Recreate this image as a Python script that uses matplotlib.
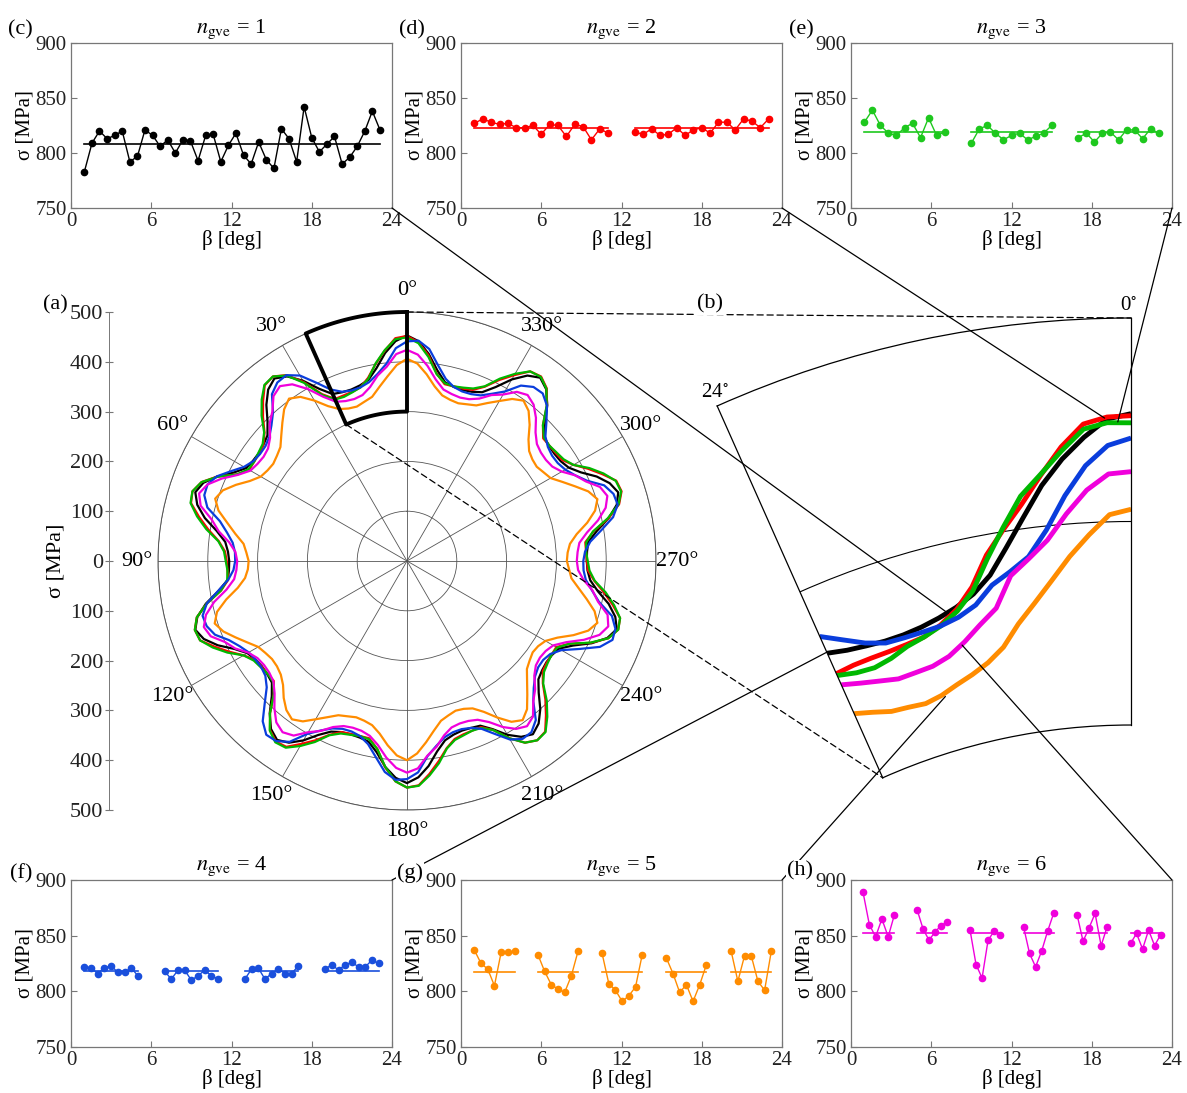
import numpy as np
import matplotlib as mpl
import matplotlib.pyplot as plt
from matplotlib.patches import ConnectionPatch

mpl.rcParams.update({'font.family': ['Liberation Serif', 'DejaVu Serif'],
                     'mathtext.fontset': 'stix', 'font.size': 15})

W, H = 1187, 1093

# ---------------- (a) polar curves, sigma [MPa] every 3 deg ----------------
theta_deg = np.arange(0, 360, 3)

sig_black = [453, 442, 420, 392, 372, 365, 362, 363, 367, 388, 418, 442,
             453, 443, 422, 396, 377, 371, 368, 369, 373, 391, 417, 438,
             447, 436, 415, 387, 367, 360, 357, 358, 362, 383, 413, 436,
             447, 437, 416, 389, 370, 363, 360, 361, 365, 384, 412, 434,
             444, 435, 416, 392, 375, 368, 366, 367, 371, 389, 416, 436,
             446, 435, 414, 387, 368, 361, 358, 359, 362, 379, 403, 421,
             430, 420, 400, 374, 355, 349, 346, 347, 352, 374, 406, 431,
             443, 433, 414, 388, 370, 363, 361, 362, 366, 386, 414, 436,
             446, 436, 417, 392, 375, 368, 366, 367, 371, 392, 421, 444,
             455, 444, 421, 392, 371, 364, 361, 362, 367, 388, 418, 442]
sig_red = [452, 448, 425, 401, 376, 361, 357, 356, 356, 376, 415, 445,
           458, 454, 432, 409, 385, 371, 367, 366, 366, 383, 417, 442,
           453, 449, 427, 404, 380, 366, 362, 361, 361, 378, 411, 437,
           448, 445, 423, 401, 379, 364, 361, 360, 360, 378, 411, 437,
           448, 445, 424, 404, 382, 368, 365, 364, 364, 382, 417, 443,
           455, 451, 430, 407, 384, 370, 366, 365, 365, 381, 411, 435,
           445, 441, 417, 393, 367, 351, 347, 346, 346, 366, 404, 433,
           446, 443, 422, 400, 378, 364, 361, 360, 360, 379, 414, 441,
           453, 450, 429, 408, 386, 372, 369, 368, 368, 386, 420, 446,
           458, 454, 431, 408, 383, 368, 364, 363, 363, 381, 415, 440]
sig_green = [449, 446, 426, 402, 374, 361, 356, 353, 355, 374, 413, 444,
             458, 455, 436, 413, 386, 373, 369, 366, 368, 383, 416, 442,
             453, 450, 431, 408, 381, 368, 364, 361, 363, 378, 411, 437,
             448, 445, 427, 405, 379, 367, 363, 360, 362, 378, 411, 438,
             450, 447, 429, 408, 383, 371, 367, 364, 366, 382, 416, 443,
             455, 452, 433, 411, 385, 372, 368, 365, 367, 381, 411, 435,
             445, 442, 421, 397, 368, 354, 349, 346, 348, 366, 403, 433,
             446, 443, 425, 404, 379, 367, 363, 360, 362, 378, 412, 440,
             452, 449, 432, 411, 386, 375, 371, 368, 370, 386, 419, 445,
             457, 454, 434, 411, 384, 371, 366, 363, 365, 380, 412, 438]
sig_blue = [441, 428, 398, 380, 367, 361, 360, 364, 377, 402, 430, 445,
            443, 431, 402, 385, 372, 366, 365, 368, 378, 397, 418, 429,
            428, 415, 384, 366, 352, 346, 345, 349, 361, 384, 411, 425,
            423, 413, 391, 377, 367, 363, 362, 366, 379, 404, 433, 449,
            447, 433, 401, 382, 368, 361, 360, 364, 376, 399, 426, 440,
            438, 425, 394, 376, 362, 356, 355, 359, 369, 390, 414, 426,
            425, 411, 379, 360, 346, 339, 338, 343, 358, 389, 424, 442,
            440, 426, 394, 376, 361, 355, 354, 358, 370, 395, 423, 438,
            436, 424, 396, 379, 367, 361, 360, 364, 374, 396, 420, 433,
            432, 420, 393, 377, 364, 359, 358, 362, 374, 398, 428, 443]
sig_magenta = [424, 416, 392, 377, 357, 345, 342, 344, 350, 370, 399, 423,
               434, 426, 404, 390, 370, 359, 356, 358, 363, 381, 407, 429,
               439, 429, 401, 383, 359, 345, 341, 343, 349, 367, 396, 418,
               429, 422, 400, 387, 368, 358, 355, 356, 361, 376, 398, 417,
               425, 418, 397, 383, 365, 355, 352, 353, 359, 374, 397, 416,
               425, 417, 393, 378, 358, 346, 343, 344, 349, 363, 385, 402,
               410, 402, 379, 364, 344, 333, 330, 332, 339, 359, 389, 414,
               425, 417, 392, 377, 356, 344, 341, 343, 348, 366, 392, 413,
               423, 415, 393, 379, 359, 348, 345, 346, 351, 365, 387, 404,
               412, 405, 386, 374, 357, 348, 345, 347, 352, 369, 394, 415]
sig_orange = [406, 394, 373, 354, 337, 331, 326, 328, 334, 349, 372, 393,
              403, 392, 374, 357, 342, 336, 332, 334, 339, 354, 376, 396,
              405, 392, 369, 349, 330, 323, 318, 320, 327, 344, 371, 395,
              406, 395, 377, 360, 345, 339, 335, 336, 341, 352, 370, 385,
              393, 384, 367, 352, 339, 334, 330, 332, 337, 351, 372, 391,
              400, 387, 366, 345, 328, 321, 316, 318, 324, 340, 363, 385,
              395, 383, 361, 341, 324, 317, 312, 314, 321, 339, 366, 390,
              402, 390, 369, 349, 332, 326, 321, 323, 329, 345, 370, 391,
              402, 390, 369, 350, 333, 327, 322, 324, 330, 345, 368, 388,
              398, 388, 371, 356, 342, 337, 333, 335, 340, 355, 377, 397]

# ---------------- (b) zoom of the 0..24 deg sector ----------------
beta_zoom = np.arange(0, 24.1, 1.5)
zoom_black = [453, 450.5, 442, 432, 420, 405.5, 392, 380, 372.5, 368, 365, 363, 362, 362, 363, 364.5, 367]
zoom_red = [452, 451.5, 448.5, 438, 425, 412, 401, 390, 376, 367, 361.5, 358, 357, 356.5, 356.5, 356.5, 356]
zoom_green = [448.5, 448.7, 446, 436, 425.5, 416, 402, 388, 374, 366, 361, 358, 356, 353, 351.5, 352.5, 355]
zoom_blue = [441, 437.5, 428, 414, 398, 386, 380, 375, 367, 363, 361, 360.5, 360.5, 361, 364.5, 370, 376]
zoom_magenta = [424.5, 423.5, 416, 405, 393, 385, 378, 363.5, 357, 350.5, 345.5, 343, 342.5, 342.3, 344.5, 347, 350]
zoom_orange = [406, 403.5, 394, 384, 373, 363, 354, 344, 338, 334, 331, 328, 326.5, 327.5, 328.5, 331.5, 334.5]

# ---------------- (c)-(h) sigma along beta, per n_gve ----------------
beta_c = [[1.00, 1.57, 2.13, 2.70, 3.27, 3.83, 4.40, 4.97, 5.53, 6.10, 6.67, 7.23, 7.80, 8.37,
           8.93, 9.50, 10.07, 10.63, 11.20, 11.77, 12.33, 12.90, 13.47, 14.03, 14.60, 15.17,
           15.73, 16.30, 16.87, 17.43, 18.00, 18.57, 19.13, 19.70, 20.27, 20.83, 21.40, 21.97,
           22.53, 23.10]]
sigma_c = [[783, 809, 820, 813, 816, 820, 792, 797, 821, 816, 806, 812, 800, 812, 811, 793,
            816, 817, 792, 807, 818, 798, 790, 810, 794, 786, 822, 813, 792, 842, 814, 801,
            808, 815, 790, 796, 806, 820, 838, 821]]
mean_c = 808

beta_d = [[1.00, 1.63, 2.25, 2.88, 3.50, 4.13, 4.75, 5.38, 6.00, 6.63, 7.25, 7.88, 8.50, 9.13, 9.75, 10.38, 11.00],
          [13.00, 13.63, 14.25, 14.88, 15.50, 16.13, 16.75, 17.38, 18.00, 18.63, 19.25, 19.88, 20.50, 21.13, 21.75, 22.38, 23.00]]
sigma_d = [[827, 831, 828, 826, 827, 823, 823, 825, 817, 826, 825, 815, 826, 824, 812, 822, 818],
           [819, 817, 822, 816, 817, 823, 816, 821, 823, 818, 828, 828, 821, 831, 829, 823, 831]]
mean_d = 823

beta_e = [[1.0, 1.6, 2.2, 2.8, 3.4, 4.0, 4.6, 5.2, 5.8, 6.4, 7.0],
          [9.0, 9.6, 10.2, 10.8, 11.4, 12.0, 12.6, 13.2, 13.8, 14.4, 15.0],
          [17.0, 17.6, 18.2, 18.8, 19.4, 20.0, 20.6, 21.2, 21.8, 22.4, 23.0]]
sigma_e = [[828, 839, 825, 818, 816, 823, 827, 814, 832, 816, 819],
           [809, 822, 825, 818, 812, 816, 818, 812, 815, 818, 825],
           [814, 818, 810, 818, 819, 812, 821, 821, 813, 822, 818]]
mean_e = 819

beta_f = [[1.0, 1.5, 2.0, 2.5, 3.0, 3.5, 4.0, 4.5, 5.0],
          [7.0, 7.5, 8.0, 8.5, 9.0, 9.5, 10.0, 10.5, 11.0],
          [13.0, 13.5, 14.0, 14.5, 15.0, 15.5, 16.0, 16.5, 17.0],
          [19.0, 19.5, 20.0, 20.5, 21.0, 21.5, 22.0, 22.5, 23.0]]
sigma_f = [[822, 821, 816, 821, 823, 817, 817, 821, 814],
           [818, 811, 819, 819, 810, 814, 819, 814, 811],
           [811, 820, 821, 811, 816, 820, 816, 816, 823],
           [820, 824, 819, 824, 826, 822, 822, 828, 825]]
mean_f = 818

beta_g = [[1.0, 1.5, 2.0, 2.5, 3.0, 3.5, 4.0],
          [5.75, 6.25, 6.75, 7.25, 7.75, 8.25, 8.75],
          [10.55, 11.05, 11.55, 12.05, 12.55, 13.05, 13.55],
          [15.35, 15.85, 16.35, 16.85, 17.35, 17.85, 18.35],
          [20.2, 20.7, 21.2, 21.7, 22.2, 22.7, 23.2]]
sigma_g = [[837, 825, 820, 805, 835, 835, 836],
           [833, 818, 806, 802, 799, 814, 836],
           [834, 807, 801, 791, 796, 804, 833],
           [830, 816, 799, 806, 791, 806, 824],
           [836, 809, 832, 832, 809, 801, 836]]
mean_g = 817

beta_h = [[0.90, 1.37, 1.84, 2.31, 2.78, 3.25],
          [4.95, 5.39, 5.83, 6.27, 6.71, 7.15],
          [8.90, 9.35, 9.80, 10.25, 10.70, 11.15],
          [12.90, 13.35, 13.80, 14.25, 14.70, 15.15],
          [16.90, 17.35, 17.80, 18.25, 18.70, 19.15],
          [20.90, 21.35, 21.80, 22.25, 22.70, 23.15]]
sigma_h = [[889, 860, 849, 865, 849, 869],
           [873, 856, 846, 853, 859, 862],
           [855, 824, 812, 846, 854, 851],
           [858, 834, 822, 836, 854, 870],
           [869, 845, 857, 870, 841, 858],
           [843, 852, 838, 855, 841, 851]]
mean_h = 852

c_black, c_red, c_green = 'k', '#ff0000', '#00b800'
c_blue, c_magenta, c_orange = '#0a3ddc', '#f000dc', '#ff8c00'

fig = plt.figure(figsize=(W / 100, H / 100), dpi=100)


def frac(x0, y0, x1, y1):
    # pixel box -> figure fraction rect
    return [x0 / W, 1 - y1 / H, (x1 - x0) / W, (y1 - y0) / H]


def label(x, y, s, box=False, size=15):
    kw = dict(ha='center', va='center', fontsize=size)
    if box:
        kw['bbox'] = dict(facecolor='white', edgecolor='none', pad=1)
    fig.text(x / W, 1 - y / H, s, **kw)


def small_panel(rect, bx, sy, mean, color, n):
    ax = fig.add_axes(rect)
    for xs, ys in zip(bx, sy):
        ax.plot(xs, ys, '-o', color=color, lw=1, ms=4.5)
        ax.plot([xs[0], xs[-1]], [mean, mean], color=color, lw=1.2)
    ax.set_xlim(0, 24)
    ax.set_ylim(750, 900)
    ax.set_xticks([0, 6, 12, 18, 24])
    ax.set_yticks([750, 800, 850, 900])
    ax.set_xlabel('β [deg]', labelpad=-1)
    ax.set_ylabel('σ [MPa]', labelpad=1)
    ax.set_title(r'$n_{\rm gve}$ = %d' % n, pad=7, fontsize=16)
    ax.tick_params(direction='in', length=4, width=0.8, color='#777777',
                   labelcolor='#222222', pad=3)
    for sp in ax.spines.values():
        sp.set_color('#777777')
        sp.set_linewidth(0.9)
    return ax


ax_c = small_panel(frac(71, 43, 392, 208), beta_c, sigma_c, mean_c, c_black, 1)
ax_d = small_panel(frac(461, 43, 782, 208), beta_d, sigma_d, mean_d, c_red, 2)
ax_e = small_panel(frac(851, 43, 1172, 208), beta_e, sigma_e, mean_e, '#1ec81e', 3)
ax_f = small_panel(frac(71, 880, 392, 1047), beta_f, sigma_f, mean_f, '#1a4fdc', 4)
ax_g = small_panel(frac(461, 880, 782, 1047), beta_g, sigma_g, mean_g, c_orange, 5)
ax_h = small_panel(frac(851, 880, 1172, 1047), beta_h, sigma_h, mean_h, c_magenta, 6)

# ---------------- (a) polar plot ----------------
ax_a = fig.add_axes(frac(158, 312, 656, 810), projection='polar')
ax_a.set_theta_zero_location('N')
ax_a.set_theta_direction(1)
series = [(sig_black, c_black), (sig_red, c_red), (sig_green, c_green),
          (sig_blue, c_blue), (sig_magenta, c_magenta), (sig_orange, c_orange)]
th = np.deg2rad(np.append(theta_deg, 360))
for vals, col in series:
    ax_a.plot(th, np.append(vals, vals[0]), color=col, lw=1.6)
ax_a.set_ylim(0, 500)
ax_a.set_yticks([100, 200, 300, 400, 500])
ax_a.set_yticklabels([])
angles = np.arange(0, 360, 30)
ax_a.set_xticks(np.deg2rad(angles))
ax_a.set_xticklabels(['%d°' % a for a in angles], fontsize=16)
ax_a.tick_params(axis='x', pad=5)
ax_a.grid(True, color='#555555', lw=0.6)
ax_a.spines['polar'].set_color('#555555')
ax_a.spines['polar'].set_linewidth(0.7)

# zoomed sector outline
zt0, zt1, zr0, zr1 = 0, 24, 300, 500
arc = np.linspace(np.deg2rad(zt0), np.deg2rad(zt1), 40)
ax_a.plot(np.concatenate([arc, arc[::-1], arc[:1]]),
          np.concatenate([np.full(40, zr1), np.full(40, zr0), [zr1]]),
          color='k', lw=2.8, clip_on=False, zorder=5)

# linear sigma axis at the left of (a)
ax_y = fig.add_axes(frac(109, 312, 130, 810))
ax_y.set_ylim(-500, 500)
ax_y.set_yticks(range(-500, 501, 100))
ax_y.set_yticklabels([str(abs(v)) for v in range(-500, 501, 100)], fontsize=16)
ax_y.set_xticks([])
ax_y.patch.set_visible(False)
for s in ['top', 'right', 'bottom']:
    ax_y.spines[s].set_visible(False)
ax_y.spines['left'].set_color('#777777')
ax_y.spines['left'].set_linewidth(0.7)
ax_y.tick_params(axis='y', direction='inout', length=6, color='#777777',
                 labelcolor='#222222', pad=1)
ax_y.set_ylabel('σ [MPa]', labelpad=3, fontsize=16)

# ---------------- (b) zoomed wedge ----------------
ax_b = fig.add_axes(frac(694.2, 318, 1154, 777.8), projection='polar')
ax_b.set_theta_zero_location('N')
ax_b.set_thetamin(zt0)
ax_b.set_thetamax(zt1)
ax_b.set_rorigin(0)
ax_b.set_ylim(zr0, zr1)
tb = np.deg2rad(beta_zoom)
for vals, col in [(zoom_black, c_black), (zoom_red, c_red), (zoom_green, c_green),
                  (zoom_blue, c_blue), (zoom_magenta, c_magenta), (zoom_orange, c_orange)]:
    ax_b.plot(tb, vals, color=col, lw=3.5, solid_capstyle='butt')
ax_b.set_xticks([])
ax_b.set_yticks([400])
ax_b.set_yticklabels([])
ax_b.grid(True, color='k', lw=0.8)
for sp in ax_b.spines.values():
    sp.set_color('k')
    sp.set_linewidth(0.9)

# ---------------- connectors ----------------
def connect(xyA, axA, coordA, xyB, axB, ls='-'):
    con = ConnectionPatch(xyA=xyA, coordsA=coordA, axesA=axA,
                          xyB=xyB, coordsB='data', axesB=axB,
                          color='k', lw=0.9, linestyle=ls)
    fig.add_artist(con)


dash = (0, (5, 3))
connect((0, zr1), ax_a, 'data', (0, zr1), ax_b, dash)
connect((np.deg2rad(zt1), zr0), ax_a, 'data', (np.deg2rad(zt1), zr0), ax_b, dash)
connect((1, 0), ax_c, 'axes fraction', (np.deg2rad(14.2), 366), ax_b)
connect((1, 0), ax_d, 'axes fraction', (np.deg2rad(1.65), 451), ax_b)
connect((1, 0), ax_e, 'axes fraction', (np.deg2rad(0.83), 449), ax_b)
connect((1, 1), ax_f, 'axes fraction', (np.deg2rad(23.9), 367.6), ax_b)
connect((1, 1), ax_g, 'axes fraction', (np.deg2rad(16.2), 327), ax_b)
connect((1, 1), ax_h, 'axes fraction', (np.deg2rad(13.75), 349.3), ax_b)

# ---------------- labels ----------------
label(55, 305, '(a)', size=16)
label(710, 304, '(b)', box=True, size=16)
label(20, 30, '(c)', size=16)
label(412, 30, '(d)', size=16)
label(801, 30, '(e)', size=16)
label(21, 874, '(f)', size=16)
label(410, 873, '(g)', box=True, size=16)
label(800, 871, '(h)', box=True, size=16)
label(1129, 306, r'0$^{\circ}$')
label(715, 392, r'24$^{\circ}$')

fig.savefig('out.png', dpi=100)
